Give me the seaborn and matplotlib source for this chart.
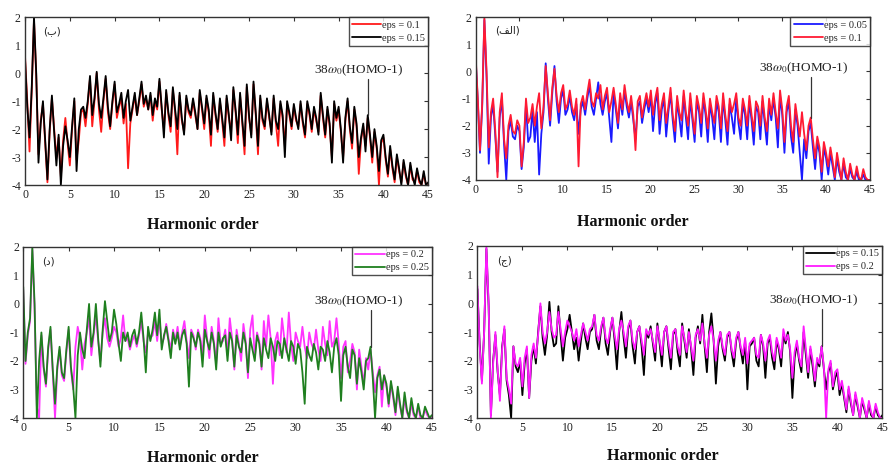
import numpy as np
import pandas as pd
import matplotlib
matplotlib.use("Agg")
import matplotlib.pyplot as plt
import seaborn as sns

# harmonic-order grid shared by every series (0 .. 45, step 0.25)
harmonic = np.linspace(0, 45, 181)

# ---- panel (ب): eps 0.1 (red) and eps 0.15 (black) ----
b_eps010 = [
    0.6, -1.0, -2.8, -0.6, 1.9, -0.1, -2.9, -1.7, -1.1, -2.5,
    -3.9, -2.1, -0.9, -2.0, -3.0, -2.3, -3.7, -2.4, -1.6, -2.5,
    -3.3, -2.0, -1.0, -3.1, -2.4, -1.4, -1.3, -1.9, -1.1, -0.2,
    -1.9, -1.0, 0.0, -1.3, -2.1, -1.0, -0.2, -1.4, -2.0, -1.1,
    -0.4, -1.6, -1.2, -0.9, -1.8, -1.1, -3.4, -1.8, -1.3, -0.8,
    -1.5, -1.0, -0.4, -1.2, -0.9, -1.3, -0.8, -1.7, -1.0, -1.3,
    -0.3, -1.3, -2.0, -0.7, -1.5, -2.1, -0.6, -1.4, -2.9, -0.8,
    -1.7, -2.1, -0.9, -1.4, -1.6, -1.0, -1.5, -2.0, -0.7, -1.3,
    -2.0, -0.9, -1.4, -2.6, -0.8, -1.5, -2.1, -1.0, -1.7, -2.6,
    -0.9, -1.6, -2.1, -0.6, -1.4, -2.5, -0.8, -1.8, -2.9, -0.5,
    -1.6, -2.2, -0.4, -1.5, -2.9, -0.9, -1.7, -2.0, -1.0, -1.6,
    -2.1, -0.9, -1.8, -2.6, -1.1, -1.6, -2.6, -1.1, -1.5, -2.0,
    -1.2, -1.7, -1.9, -1.1, -1.8, -2.3, -1.1, -1.5, -2.1, -1.3,
    -1.7, -2.1, -0.8, -1.6, -2.3, -1.3, -1.9, -3.0, -1.1, -1.7,
    -1.3, -2.1, -3.0, -1.7, -1.0, -2.0, -2.7, -1.3, -1.9, -3.6,
    -2.4, -1.9, -2.6, -1.6, -2.3, -3.2, -2.1, -2.7, -4.0, -2.5,
    -2.3, -3.1, -3.7, -2.7, -3.4, -3.9, -3.0, -3.5, -3.9, -3.2,
    -3.7, -4.0, -3.3, -3.8, -3.9, -3.5, -3.9, -4.0, -3.6, -4.0,
    -4.0]
b_eps015 = [
    0.5, -1.2, -2.3, -0.5, 2.0, 0.0, -3.2, -1.8, -1.0, -2.4,
    -3.8, -2.0, -0.8, -2.1, -3.3, -2.2, -4.0, -2.6, -1.9, -2.4,
    -3.0, -1.9, -0.9, -3.5, -2.0, -1.3, -1.2, -1.6, -1.0, -0.1,
    -1.5, -0.9, 0.05, -1.1, -1.6, -0.9, -0.1, -1.2, -1.9, -1.0,
    -0.3, -1.4, -1.1, -0.7, -1.6, -1.0, -0.6, -1.7, -1.2, -0.7,
    -1.5, -0.9, -0.3, -1.1, -0.8, -1.3, -0.7, -1.5, -0.9, -1.2,
    -0.2, -1.2, -2.3, -0.6, -1.4, -1.9, -0.5, -1.3, -2.0, -0.7,
    -1.6, -2.2, -0.8, -1.3, -1.5, -0.9, -1.4, -2.0, -0.6, -1.2,
    -1.8, -0.8, -1.3, -2.2, -0.7, -1.4, -2.0, -0.9, -1.6, -2.3,
    -0.8, -1.5, -2.4, -0.5, -1.3, -2.2, -0.7, -1.7, -2.6, -0.4,
    -1.5, -2.3, -0.3, -1.4, -2.6, -0.8, -1.6, -1.9, -0.9, -1.5,
    -2.2, -0.8, -1.7, -2.0, -1.0, -1.5, -3.0, -1.0, -1.4, -1.9,
    -1.1, -1.6, -2.0, -1.0, -1.7, -2.2, -1.0, -1.4, -2.0, -1.2,
    -1.6, -2.2, -0.7, -1.5, -2.2, -1.2, -1.8, -3.2, -1.0, -1.6,
    -1.2, -2.0, -3.2, -1.6, -0.9, -1.9, -2.5, -1.2, -1.8, -3.0,
    -2.3, -1.8, -2.8, -1.5, -2.2, -3.0, -2.0, -2.6, -3.5, -2.4,
    -2.2, -3.0, -3.6, -2.6, -3.3, -3.8, -2.9, -3.4, -4.0, -3.1,
    -3.6, -4.0, -3.2, -3.7, -4.0, -3.4, -3.8, -4.0, -3.5, -4.0,
    -3.9]

# ---- panel (الف): eps 0.05 (blue) and eps 0.1 (red) ----
a_eps005 = [
    0.5, -1.1, -3.0, -1.3, 1.9, -0.2, -3.4, -1.7, -1.2, -2.4,
    -3.7, -1.7, -1.0, -2.7, -4.0, -2.2, -1.8, -2.4, -2.5, -2.0,
    -2.2, -3.6, -2.8, -1.2, -2.6, -2.4, -1.4, -2.6, -1.5, -3.8,
    -2.3, -1.5, 0.3, -1.0, -2.0, -0.8, 0.2, -1.1, -1.9, -1.0,
    -0.7, -1.6, -1.4, -0.9, -1.5, -1.8, -1.2, -2.3, -1.4, -1.1,
    -1.6, -1.0, -0.5, -1.3, -1.6, -1.0, -0.4, -1.2, -1.6, -1.1,
    -0.8, -1.7, -2.6, -0.8, -1.4, -2.1, -1.0, -1.6, -0.7, -1.3,
    -1.7, -1.1, -1.8, -2.5, -1.3, -1.1, -1.9, -1.4, -1.0, -1.5,
    -0.9, -2.2, -1.2, -0.8, -2.3, -1.4, -1.0, -2.4, -1.5, -0.8,
    -1.8, -2.6, -1.1, -1.7, -2.4, -0.9, -1.7, -2.5, -1.0, -1.8,
    -2.6, -1.1, -1.5, -2.4, -1.0, -1.6, -2.6, -1.2, -1.7, -2.5,
    -1.1, -1.5, -2.6, -1.0, -1.8, -2.7, -1.2, -1.7, -2.3, -1.0,
    -1.9, -2.5, -1.2, -1.6, -2.5, -1.1, -1.8, -2.7, -1.3, -1.5,
    -2.5, -1.1, -1.9, -2.7, -1.2, -1.8, -1.0, -1.7, -2.8, -0.9,
    -1.6, -3.0, -1.5, -1.1, -2.4, -3.0, -1.4, -2.0, -3.0, -4.0,
    -2.5, -3.2, -2.2, -1.9, -2.8, -3.6, -2.6, -3.0, -4.0, -2.8,
    -3.2, -3.8, -3.0, -3.5, -4.0, -3.2, -3.7, -4.0, -3.4, -3.9,
    -4.0, -3.6, -3.9, -4.0, -3.7, -4.0, -4.0, -3.8, -4.0, -4.0,
    -4.0]
a_eps010 = [
    0.6, -1.0, -2.9, -1.2, 2.0, 0.0, -2.8, -1.5, -1.0, -2.2,
    -3.9, -1.5, -0.8, -2.5, -3.2, -2.0, -1.6, -2.2, -2.3, -1.8,
    -2.0, -3.5, -2.6, -1.0, -1.9, -1.7, -1.2, -2.0, -1.3, -0.8,
    -2.1, -1.3, 0.2, -0.8, -1.8, -0.6, 0.1, -0.9, -1.5, -0.8,
    -0.5, -1.4, -1.2, -0.7, -1.3, -1.6, -1.0, -3.5, -1.2, -0.9,
    -1.4, -0.8, -0.3, -1.1, -1.3, -0.8, -1.0, -0.5, -1.4, -0.9,
    -0.6, -1.5, -1.1, -0.6, -1.2, -1.9, -0.8, -1.4, -0.5, -1.1,
    -1.5, -0.9, -1.6, -2.9, -1.1, -0.9, -1.7, -1.2, -0.8, -1.3,
    -0.7, -1.6, -1.0, -0.6, -1.8, -1.2, -0.8, -1.9, -1.3, -0.6,
    -1.6, -2.2, -0.9, -1.5, -1.8, -0.7, -1.5, -2.0, -0.8, -1.6,
    -2.3, -0.9, -1.3, -1.9, -0.8, -1.4, -2.1, -1.0, -1.5, -1.9,
    -0.9, -1.3, -2.1, -0.8, -1.6, -2.2, -1.0, -1.5, -1.2, -0.8,
    -1.7, -2.0, -1.0, -1.4, -2.0, -0.9, -1.6, -2.2, -1.1, -1.3,
    -2.0, -0.9, -1.7, -2.2, -1.0, -1.6, -0.8, -1.5, -2.1, -0.7,
    -1.4, -2.6, -1.3, -0.9, -2.0, -2.6, -1.2, -1.8, -2.4, -1.5,
    -2.3, -2.9, -2.0, -1.7, -2.5, -3.2, -2.4, -2.8, -3.7, -2.6,
    -3.0, -3.5, -2.8, -3.3, -3.9, -3.0, -3.5, -4.0, -3.2, -3.7,
    -4.0, -3.4, -3.8, -4.0, -3.5, -3.9, -4.0, -3.6, -3.9, -4.0,
    -4.0]

# ---- panel (د): eps 0.2 (magenta) and eps 0.25 (green) ----
d_eps020 = [
    0.5, -2.1, -1.1, -0.6, 1.9, -0.2, -3.6, -4.0, -1.1, -2.3,
    -2.9, -1.6, -0.9, -2.4, -4.0, -2.3, -1.6, -2.5, -2.7, -1.7,
    -0.9, -2.3, -3.0, -1.5, -0.8, -1.2, -2.3, -1.4, -1.0, -0.5,
    -1.8, -1.1, -0.4, -1.3, -2.0, -1.0, -0.5, -1.2, -1.5, -1.2,
    -0.8, -1.0, -1.5, -1.2, -0.4, -1.3, -1.2, -1.6, -1.3, -1.1,
    -1.5, -1.1, -0.6, -1.3, -1.7, -1.0, -1.2, -1.1, -0.6, -1.3,
    -0.5, -1.4, -1.2, -0.7, -1.2, -1.6, -0.9, -1.3, -0.8, -1.5,
    -1.0, -0.6, -1.3, -1.9, -0.9, -1.1, -1.6, -0.9, -1.2, -1.8,
    -0.4, -1.2, -1.9, -0.8, -1.3, -2.1, -0.5, -1.4, -1.3, -0.9,
    -1.8, -0.5, -1.2, -2.3, -0.9, -1.4, -2.0, -0.7, -1.3, -2.6,
    -0.9, -0.4, -1.9, -1.0, -1.3, -2.3, -0.6, -1.5, -0.4, -1.2,
    -2.8, -1.3, -1.0, -1.8, -0.5, -1.2, -1.7, -0.3, -1.4, -2.0,
    -1.0, -1.3, -1.5, -0.8, -1.5, -1.9, -1.0, -1.4, -1.6, -0.9,
    -1.6, -2.0, -0.8, -1.4, -1.8, -0.6, -1.5, -1.3, -0.5, -1.4,
    -2.6, -1.5, -1.3, -2.4, -2.0, -1.4, -1.7, -3.0, -1.6, -2.2,
    -2.8, -1.9, -2.3, -1.6, -2.4, -3.1, -2.5, -2.2, -3.6, -2.5,
    -2.9, -3.6, -2.8, -3.3, -3.9, -3.0, -3.6, -4.0, -3.3, -3.8,
    -4.0, -3.5, -3.9, -4.0, -3.6, -4.0, -4.0, -3.7, -3.9, -4.0,
    -4.0]
d_eps025 = [
    0.6, -2.0, -1.0, -0.5, 2.0, 0.0, -4.0, -2.0, -1.0, -2.2,
    -2.8, -1.5, -0.8, -2.3, -3.5, -2.2, -1.5, -2.4, -2.6, -1.6,
    -0.8, -2.2, -2.9, -4.0, -1.8, -1.0, -1.6, -1.9, -0.9, 0.0,
    -1.5, -1.0, 0.0, -1.2, -2.2, -0.9, 0.1, -0.6, -1.3, -1.0,
    -0.2, -0.7, -1.4, -2.0, -1.0, -1.3, -1.0, -1.5, -1.1, -0.9,
    -1.4, -1.0, -0.3, -1.2, -2.4, -0.8, -1.3, -0.9, -0.3, -1.1,
    -0.2, -1.6, -1.1, -0.8, -1.3, -1.9, -1.0, -1.4, -1.0, -1.6,
    -1.1, -0.9, -1.4, -2.9, -1.0, -1.2, -1.5, -1.0, -1.3, -2.2,
    -0.9, -1.3, -1.6, -1.0, -1.4, -2.3, -1.0, -1.5, -1.2, -1.1,
    -2.0, -1.0, -1.3, -2.2, -1.1, -1.5, -1.7, -1.0, -1.4, -2.4,
    -1.2, -1.6, -2.0, -1.1, -1.4, -2.2, -1.2, -1.6, -1.9, -1.2,
    -1.5, -2.0, -1.3, -1.4, -1.9, -1.2, -1.6, -2.0, -1.3, -1.5,
    -2.1, -1.4, -1.6, -2.4, -3.5, -1.5, -1.8, -2.0, -1.4, -1.7,
    -2.3, -1.5, -1.6, -2.0, -1.3, -1.7, -2.4, -1.5, -1.2, -1.8,
    -3.4, -1.8, -1.5, -2.2, -2.6, -1.6, -1.8, -2.8, -1.9, -2.4,
    -3.0, -2.0, -1.9, -1.5, -2.6, -4.0, -2.6, -2.3, -3.0, -2.5,
    -2.8, -3.5, -2.7, -3.2, -3.8, -2.9, -3.5, -4.0, -3.1, -3.7,
    -4.0, -3.3, -3.8, -4.0, -3.5, -3.9, -4.0, -3.6, -3.8, -4.0,
    -3.9]

# ---- panel (ج): eps 0.15 (black) and eps 0.2 (magenta) ----
j_eps015 = [
    0.5, -1.4, -2.7, -1.0, 1.9, -0.1, -3.9, -2.0, -1.1, -2.4,
    -3.2, -1.5, -0.9, -2.7, -3.2, -4.0, -1.5, -2.2, -2.4, -2.0,
    -3.2, -2.1, -1.6, -3.3, -2.0, -1.5, -2.1, -1.0, -0.1, -1.2,
    -1.8, -1.1, 0.05, -1.0, -1.5, -1.4, -0.1, -1.1, -2.0, -1.2,
    -0.9, -0.4, -1.0, -1.6, -1.2, -2.0, -1.3, -0.7, -1.2, -1.6,
    -1.0, -0.9, -0.4, -1.3, -1.6, -0.9, -0.5, -1.4, -1.8, -1.0,
    -0.5, -1.3, -2.3, -1.0, -0.3, -1.2, -1.9, -0.9, -0.6, -1.5,
    -2.1, -1.0, -0.8, -1.5, -2.5, -1.0, -1.2, -0.8, -1.4, -2.0,
    -0.7, -1.4, -2.2, -1.0, -0.8, -1.6, -2.3, -1.1, -0.9, -1.7,
    -2.2, -0.7, -1.3, -1.9, -0.9, -1.6, -2.5, -1.2, -0.8, -1.4,
    -0.4, -1.5, -2.4, -1.0, -0.35, -1.3, -2.8, -1.5, -1.0, -1.6,
    -2.0, -1.2, -1.0, -1.7, -2.2, -1.3, -1.0, -1.6, -2.1, -1.3,
    -3.0, -1.5, -1.4, -1.2, -2.0, -2.2, -1.1, -1.5, -2.6, -1.4,
    -1.2, -1.9, -2.3, -1.3, -1.6, -2.2, -1.1, -1.4, -1.0, -1.7,
    -3.3, -1.9, -1.4, -2.0, -2.4, -1.0, -1.8, -2.6, -1.6, -2.2,
    -2.9, -2.0, -2.2, -1.5, -2.3, -3.0, -2.4, -2.1, -3.0, -2.6,
    -2.4, -3.2, -2.8, -3.3, -3.8, -3.0, -3.5, -3.9, -3.2, -3.6,
    -4.0, -3.4, -3.7, -4.0, -3.5, -3.9, -4.0, -3.6, -3.9, -4.0,
    -3.9]
j_eps020 = [
    0.6, -1.5, -2.8, -1.0, 2.0, 0.0, -4.0, -2.1, -1.0, -2.3,
    -3.4, -1.6, -0.8, -2.6, -3.0, -3.5, -1.5, -2.1, -2.2, -1.9,
    -2.9, -1.9, -1.5, -3.3, -1.8, -1.4, -1.9, -1.1, 0.0, -1.0,
    -1.4, -1.0, -0.3, -0.9, -1.2, -1.1, -0.3, -0.9, -1.5, -1.0,
    -0.6, -0.8, -1.0, -1.3, -0.9, -1.5, -1.1, -0.7, -1.0, -1.3,
    -0.9, -0.8, -0.4, -1.1, -1.3, -0.8, -0.5, -1.2, -1.4, -0.9,
    -0.5, -1.1, -1.6, -0.9, -0.6, -1.0, -1.5, -0.8, -0.6, -1.3,
    -1.6, -1.0, -0.8, -1.3, -1.8, -0.9, -1.1, -0.9, -1.3, -1.7,
    -0.8, -1.3, -1.8, -1.0, -0.8, -1.4, -1.9, -1.0, -0.9, -1.5,
    -1.8, -0.8, -1.2, -1.7, -1.0, -1.5, -2.0, -1.1, -0.9, -1.3,
    -0.7, -1.4, -1.9, -1.1, -0.8, -1.3, -2.0, -1.3, -1.0, -1.5,
    -1.8, -1.1, -1.0, -1.6, -1.9, -1.2, -1.0, -1.5, -1.8, -1.2,
    -2.1, -1.4, -1.3, -1.2, -1.8, -1.9, -1.1, -1.4, -2.0, -1.3,
    -1.1, -1.7, -2.0, -1.2, -1.5, -1.9, -0.9, -1.3, -1.1, -1.6,
    -2.6, -1.7, -1.3, -1.9, -2.2, -0.8, -1.6, -2.4, -1.5, -2.0,
    -2.7, -1.9, -2.1, -1.5, -2.2, -4.0, -2.3, -2.0, -2.9, -2.4,
    -2.3, -3.0, -2.7, -3.2, -3.7, -2.9, -3.4, -3.9, -3.1, -3.5,
    -4.0, -3.3, -3.6, -4.0, -3.4, -3.8, -4.0, -3.5, -3.8, -4.0,
    -4.0]

# panel labels (Persian letters, written in visual order with presentation forms)
panel_labels = ["(\u0628)", "(\uFED2\uFEDF\uFE8D)", "(\u062F)", "(\u062C)"]
xlabel_text = "Harmonic order"
annot_text = r"38$\omega_0$(HOMO-1)"
annot_x = 38.3
y_ticks = [-4, -3, -2, -1, 0, 1, 2]
x_ticks = [0, 5, 10, 15, 20, 25, 30, 35, 40, 45]

panels = [
    dict(rect=[0.028, 0.602, 0.451, 0.361],
         series=[("eps = 0.1", b_eps010, "#ff1a1a"), ("eps = 0.15", b_eps015, "#000000")],
         annot_y=(-0.2, -1.5), text_xy=(32.2, 0.0), lab=panel_labels[0], lab_x=2.0,
         xlab=(0.44, -0.19)),
    dict(rect=[0.532, 0.613, 0.441, 0.350],
         series=[("eps = 0.05", a_eps005, "#1a1aff"), ("eps = 0.1", a_eps010, "#ff1a33")],
         annot_y=(-0.2, -1.7), text_xy=(32.3, 0.0), lab=panel_labels[1], lab_x=2.2,
         xlab=(0.40, -0.21)),
    dict(rect=[0.026, 0.101, 0.457, 0.368],
         series=[("eps = 0.2", d_eps020, "#ff33ff"), ("eps = 0.25", d_eps025, "#1f7f1f")],
         annot_y=(-0.2, -1.5), text_xy=(32.0, 0.0), lab=panel_labels[2], lab_x=2.1,
         xlab=(0.44, -0.185)),
    dict(rect=[0.534, 0.101, 0.453, 0.370],
         series=[("eps = 0.15", j_eps015, "#000000"), ("eps = 0.2", j_eps020, "#ff1aff")],
         annot_y=(-0.2, -1.5), text_xy=(32.4, 0.0), lab=panel_labels[3], lab_x=2.2,
         xlab=(0.457, -0.175)),
]

sns.set_style("white")
plt.rcParams["font.family"] = ["Liberation Serif", "DejaVu Sans"]
plt.rcParams["mathtext.fontset"] = "stix"
plt.rcParams["axes.unicode_minus"] = False

fig = plt.figure(figsize=(8.94, 4.65), dpi=100)

for p in panels:
    ax = fig.add_axes(p["rect"])
    for name, vals, col in p["series"]:
        assert len(vals) == len(harmonic)
        df = pd.DataFrame({"h": harmonic, "v": vals})
        sns.lineplot(data=df, x="h", y="v", ax=ax, color=col, lw=1.3, label=name)
    ax.set_xlim(0, 45)
    ax.set_ylim(-4, 2)
    ax.set_xticks(x_ticks)
    ax.set_yticks(y_ticks)
    ax.tick_params(direction="in", length=3, width=0.8, labelsize=8.5,
                   top=True, right=True, colors="#333333", labelcolor="#222222", pad=3)
    for s in ax.spines.values():
        s.set_color("#333333")
        s.set_linewidth(1.0)
    ax.set_xlabel(xlabel_text, fontsize=11.5, fontweight="bold", color="#111111")
    ax.xaxis.set_label_coords(*p["xlab"])
    ax.set_ylabel("")
    leg = ax.legend(loc="upper right", fontsize=7.5, frameon=True, fancybox=False,
                    edgecolor="#222222", handlelength=2.8, handletextpad=0.1,
                    borderpad=0.3, labelspacing=0.35, borderaxespad=0.0)
    leg.get_frame().set_linewidth(1.0)
    ax.text(p["text_xy"][0], p["text_xy"][1], annot_text, fontsize=9.5, color="#222222")
    ax.plot([annot_x, annot_x], list(p["annot_y"]), color="#333333", lw=0.9)
    ax.text(p["lab_x"], 1.4, p["lab"], fontsize=7.5, family=["DejaVu Sans"], color="#222222")

fig.savefig("out.png", dpi=100)
